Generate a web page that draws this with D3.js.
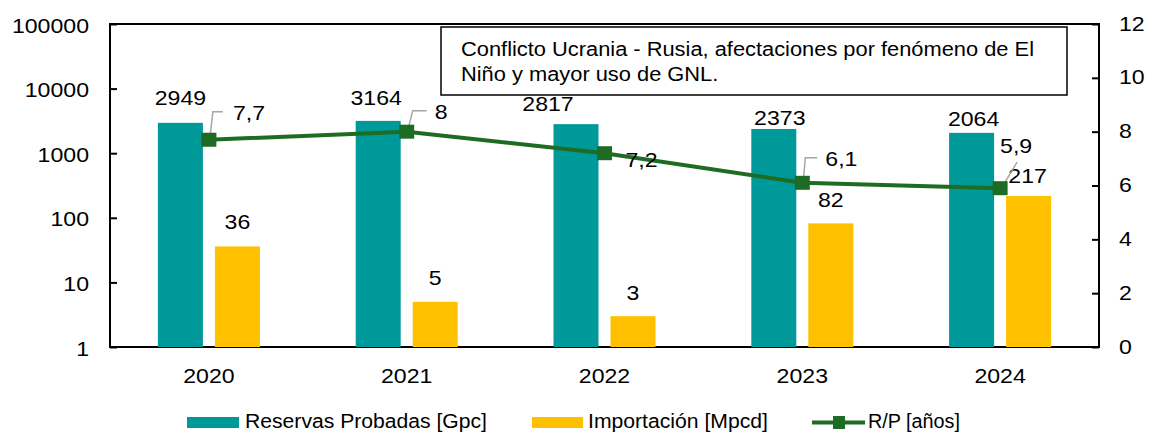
<!DOCTYPE html>
<html><head><meta charset="utf-8">
<script src="https://cdn.jsdelivr.net/npm/d3@7"></script>
<style>body{margin:0;background:#fff}svg{font-family:Arial,"Liberation Sans",sans-serif}</style>
</head><body>
<svg id="c" width="1150" height="433"></svg>
<script>
const years = ["2020","2021","2022","2023","2024"];
const reservas = [2949, 3164, 2817, 2373, 2064];
const importacion = [36, 5, 3, 82, 217];
const rp = [7.7, 8, 7.2, 6.1, 5.9];
const rpLabels = ["7,7","8","7,2","6,1","5,9"];
const leftTicks = [1, 10, 100, 1000, 10000, 100000];
const rightTicks = [0, 2, 4, 6, 8, 10, 12];
const seriesNames = ["Reservas Probadas [Gpc]", "Importación [Mpcd]", "R/P [años]"];
const note = ["Conflicto Ucrania - Rusia, afectaciones por fenómeno de El", "Niño y mayor uso de GNL."];

const C_TEAL = "#009999", C_YEL = "#ffc000", C_GRN = "#1e6b24", C_LEAD = "#a6a6a6";
const FS = 21, K = 1.1;
const m = {l:110, r:1099, t:24, b:347};
const svg = d3.select("#c");
const x = d3.scaleBand().domain(years).range([m.l, m.r]);
const yL = d3.scaleLog().domain([1, 100000]).range([m.b, m.t]);
const yR = d3.scaleLinear().domain([0, 12]).range([m.b, m.t]);
const bw = 45, gap = 12;

function stretch(sel, k) {
  sel.each(function() {
    const L = this.getComputedTextLength();
    d3.select(this).attr("textLength", L * k).attr("lengthAdjust", "spacingAndGlyphs");
  });
}

// frame
svg.append("rect").attr("x", m.l).attr("y", m.t).attr("width", m.r-m.l).attr("height", m.b-m.t)
  .attr("fill","none").attr("stroke","#000").attr("stroke-width",2);

// axes
const axL = svg.append("g").attr("transform",`translate(${m.l},0)`)
  .call(d3.axisRight(yL).tickValues(leftTicks).tickFormat(d3.format("d")).tickSize(7).tickPadding(0));
axL.select(".domain").remove();
axL.selectAll("line").attr("stroke","#000").attr("stroke-width",2);
axL.selectAll("text").attr("x",-21).attr("dy",8).attr("text-anchor","end").attr("font-size",FS).attr("fill","#000");
stretch(axL.selectAll("text"), K);

const axR = svg.append("g").attr("transform",`translate(${m.r},0)`)
  .call(d3.axisLeft(yR).tickValues(rightTicks).tickSize(7).tickPadding(0));
axR.select(".domain").remove();
axR.selectAll("line").attr("stroke","#000").attr("stroke-width",2);
axR.selectAll("text").attr("x",20).attr("dy",6).attr("text-anchor","start").attr("font-size",FS).attr("fill","#000");
stretch(axR.selectAll("text"), K);

const axB = svg.append("g").attr("transform",`translate(0,${m.b})`)
  .call(d3.axisBottom(x).tickSize(0).tickPadding(0));
axB.select(".domain").remove();
axB.selectAll("text").attr("y",36).attr("dy",0).attr("font-size",FS).attr("fill","#000");
stretch(axB.selectAll("text"), K);

const cx = d => x(d) + x.bandwidth()/2;
const tx = d => cx(d) - gap/2 - bw;
const yx = d => cx(d) + gap/2;

// bars
svg.selectAll(".bt").data(years).join("rect").attr("class","bt")
  .attr("x", tx).attr("width", bw)
  .attr("y", (d,i) => yL(reservas[i])).attr("height", (d,i) => m.b - yL(reservas[i]))
  .attr("fill", C_TEAL);
svg.selectAll(".by").data(years).join("rect").attr("class","by")
  .attr("x", yx).attr("width", bw)
  .attr("y", (d,i) => yL(importacion[i])).attr("height", (d,i) => m.b - yL(importacion[i]))
  .attr("fill", C_YEL);

// bar labels (layout offsets)
const tDx = [0, -2, -28, 6, 2], tDy = [-18, -16, -13, -4, -7];
const lt = svg.selectAll(".lt").data(years).join("text").attr("class","lt")
  .attr("x", (d,i) => tx(d) + bw/2 + tDx[i])
  .attr("y", (d,i) => yL(reservas[i]) + tDy[i])
  .attr("text-anchor","middle").attr("font-size",FS).text((d,i) => reservas[i]);
stretch(lt, K);
const yDx = [0, 0, 0, 0, -1], yDy = [-17, -17, -16, -16, -13];
const ly = svg.selectAll(".ly").data(years).join("text").attr("class","ly")
  .attr("x", (d,i) => yx(d) + bw/2 + yDx[i])
  .attr("y", (d,i) => yL(importacion[i]) + yDy[i])
  .attr("text-anchor","middle").attr("font-size",FS).text((d,i) => importacion[i]);
stretch(ly, K);

// annotation box
svg.append("rect").attr("x",441).attr("y",27).attr("width",626).attr("height",68)
  .attr("fill","#fff").attr("stroke","#000").attr("stroke-width",1.5);
const nt = svg.selectAll(".nt").data(note).join("text").attr("class","nt")
  .attr("x",461).attr("y",(d,i) => 56 + i*24.5).attr("font-size",19.5).text(d => d);
{
  const L0 = nt.nodes()[0].getComputedTextLength();
  stretch(nt, 573 / L0);
}

// line
const line = d3.line().x(d => cx(d)).y((d,i) => yR(rp[i]));
svg.append("path").datum(years).attr("d", line).attr("fill","none").attr("stroke",C_GRN).attr("stroke-width",4);

// leaders (layout)
const leaders = [
  [[1,-2],[4,-28],[14,-28]],
  [[1,-1],[6,-21],[20,-21]],
  null,
  [[1,-1],[3,-25],[15,-25]],
  [[2,-1],[17,-26]]
];
years.forEach((d,i) => {
  if (!leaders[i]) return;
  const px = cx(d), py = yR(rp[i]);
  svg.append("path").attr("d", d3.line()(leaders[i].map(p => [px+p[0], py+p[1]])))
    .attr("fill","none").attr("stroke",C_LEAD).attr("stroke-width",1.5);
});
svg.selectAll(".mk").data(years).join("rect").attr("class","mk")
  .attr("x", d => cx(d)-7.5).attr("y", (d,i) => yR(rp[i])-7).attr("width",15).attr("height",14).attr("fill",C_GRN);
const rDx = [24, 28, 21, 23, 0], rDy = [-20, -13, 14, -17, -35];
const lr = svg.selectAll(".lr").data(years).join("text").attr("class","lr")
  .attr("x", (d,i) => cx(d) + rDx[i])
  .attr("y", (d,i) => yR(rp[i]) + rDy[i])
  .attr("text-anchor","start").attr("font-size",FS).text((d,i) => rpLabels[i]);
stretch(lr, K);

// legend
const lg = svg.append("g").attr("font-size",20);
lg.append("rect").attr("x",187).attr("y",417).attr("width",52).attr("height",11).attr("fill",C_TEAL);
lg.append("rect").attr("x",532).attr("y",417).attr("width",51).attr("height",11).attr("fill",C_YEL);
lg.append("line").attr("x1",812).attr("x2",865).attr("y1",422.5).attr("y2",422.5).attr("stroke",C_GRN).attr("stroke-width",4);
lg.append("rect").attr("x",833).attr("y",416).attr("width",12).attr("height",13).attr("fill",C_GRN);
const legX = [245, 588, 868], legW = [242, 180, 92];
lg.selectAll("text").data(seriesNames).join("text")
  .attr("x",(d,i) => legX[i]).attr("y",428).text(d => d)
  .attr("textLength",(d,i) => legW[i]).attr("lengthAdjust","spacingAndGlyphs");
</script>
</body></html>
